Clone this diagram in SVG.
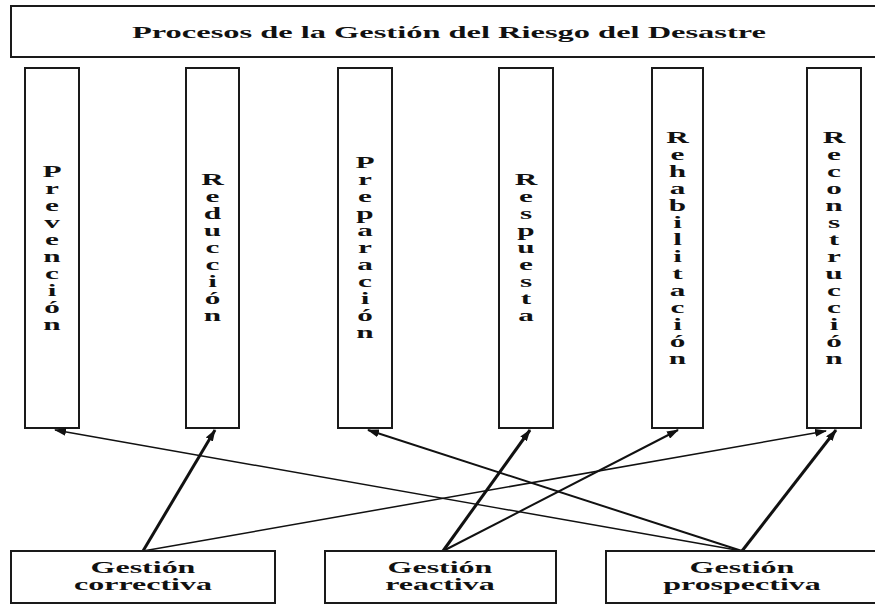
<svg xmlns="http://www.w3.org/2000/svg" width="875" height="604" viewBox="0 0 875 604">
<style>
  .box { fill: #ffffff; stroke: #1a1a1a; stroke-width: 2; }
  .t { font-family: "Liberation Serif", "Times New Roman", serif; font-weight: bold; font-size: 16px; fill: #111; }
  .c { stroke: #111; fill: none; }
  .thick { stroke-width: 3; }
  .med { stroke-width: 2; }
  .thin { stroke-width: 1.5; }
</style>
<defs>
  <marker id="ah" viewBox="0 0 12 8" refX="11" refY="4" markerWidth="12" markerHeight="8" markerUnits="userSpaceOnUse" orient="auto">
    <path d="M0,0 L12,4 L0,8 z" fill="#111"/>
  </marker>
</defs>
<rect width="875" height="604" fill="#ffffff"/>

<g id="title">
  <rect class="box" x="11" y="6" width="872" height="51"/>
  <g transform="scale(2 1)">
    <text class="t" x="224.5" y="38" text-anchor="middle" textLength="317" lengthAdjust="spacingAndGlyphs">Procesos de la Gestión del Riesgo del Desastre</text>
  </g>
</g>

<g id="prevencion">
  <rect class="box" x="25" y="68" width="54" height="360"/>
  <g transform="translate(52 0) scale(1.95 1)">
    <text class="t" text-anchor="middle"><tspan x="0" y="177">P</tspan><tspan x="0" dy="17">r</tspan><tspan x="0" dy="17">e</tspan><tspan x="0" dy="17">v</tspan><tspan x="0" dy="17">e</tspan><tspan x="0" dy="17">n</tspan><tspan x="0" dy="17">c</tspan><tspan x="0" dy="17">i</tspan><tspan x="0" dy="17">ó</tspan><tspan x="0" dy="17">n</tspan></text>
  </g>
</g>

<g id="reduccion">
  <rect class="box" x="186" y="68" width="53" height="360"/>
  <g transform="translate(212.5 0) scale(1.95 1)">
    <text class="t" text-anchor="middle"><tspan x="0" y="185.5">R</tspan><tspan x="0" dy="17">e</tspan><tspan x="0" dy="17">d</tspan><tspan x="0" dy="17">u</tspan><tspan x="0" dy="17">c</tspan><tspan x="0" dy="17">c</tspan><tspan x="0" dy="17">i</tspan><tspan x="0" dy="17">ó</tspan><tspan x="0" dy="17">n</tspan></text>
  </g>
</g>

<g id="preparacion">
  <rect class="box" x="338" y="68" width="54" height="360"/>
  <g transform="translate(365 0) scale(1.95 1)">
    <text class="t" text-anchor="middle"><tspan x="0" y="168.5">P</tspan><tspan x="0" dy="17">r</tspan><tspan x="0" dy="17">e</tspan><tspan x="0" dy="17">p</tspan><tspan x="0" dy="17">a</tspan><tspan x="0" dy="17">r</tspan><tspan x="0" dy="17">a</tspan><tspan x="0" dy="17">c</tspan><tspan x="0" dy="17">i</tspan><tspan x="0" dy="17">ó</tspan><tspan x="0" dy="17">n</tspan></text>
  </g>
</g>

<g id="respuesta">
  <rect class="box" x="499" y="68" width="54" height="360"/>
  <g transform="translate(526 0) scale(1.95 1)">
    <text class="t" text-anchor="middle"><tspan x="0" y="185.5">R</tspan><tspan x="0" dy="17">e</tspan><tspan x="0" dy="17">s</tspan><tspan x="0" dy="17">p</tspan><tspan x="0" dy="17">u</tspan><tspan x="0" dy="17">e</tspan><tspan x="0" dy="17">s</tspan><tspan x="0" dy="17">t</tspan><tspan x="0" dy="17">a</tspan></text>
  </g>
</g>

<g id="rehabilitacion">
  <rect class="box" x="652" y="68" width="51" height="360"/>
  <g transform="translate(677.5 0) scale(1.95 1)">
    <text class="t" text-anchor="middle"><tspan x="0" y="143">R</tspan><tspan x="0" dy="17">e</tspan><tspan x="0" dy="17">h</tspan><tspan x="0" dy="17">a</tspan><tspan x="0" dy="17">b</tspan><tspan x="0" dy="17">i</tspan><tspan x="0" dy="17">l</tspan><tspan x="0" dy="17">i</tspan><tspan x="0" dy="17">t</tspan><tspan x="0" dy="17">a</tspan><tspan x="0" dy="17">c</tspan><tspan x="0" dy="17">i</tspan><tspan x="0" dy="17">ó</tspan><tspan x="0" dy="17">n</tspan></text>
  </g>
</g>

<g id="reconstruccion">
  <rect class="box" x="807" y="68" width="54" height="360"/>
  <g transform="translate(834 0) scale(1.95 1)">
    <text class="t" text-anchor="middle"><tspan x="0" y="143">R</tspan><tspan x="0" dy="17">e</tspan><tspan x="0" dy="17">c</tspan><tspan x="0" dy="17">o</tspan><tspan x="0" dy="17">n</tspan><tspan x="0" dy="17">s</tspan><tspan x="0" dy="17">t</tspan><tspan x="0" dy="17">r</tspan><tspan x="0" dy="17">u</tspan><tspan x="0" dy="17">c</tspan><tspan x="0" dy="17">c</tspan><tspan x="0" dy="17">i</tspan><tspan x="0" dy="17">ó</tspan><tspan x="0" dy="17">n</tspan></text>
  </g>
</g>

<g id="connectors">
  <line class="c thin" x1="143" y1="551" x2="826" y2="431" marker-end="url(#ah)"/>
  <line class="c thin" x1="742" y1="551" x2="55" y2="430" marker-end="url(#ah)"/>
  <line class="c med" x1="742" y1="551" x2="368" y2="430" marker-end="url(#ah)"/>
  <line class="c med" x1="443" y1="551" x2="678" y2="430" marker-end="url(#ah)"/>
  <line class="c thick" x1="143" y1="551" x2="215" y2="430" marker-end="url(#ah)"/>
  <line class="c thick" x1="443" y1="551" x2="530" y2="430" marker-end="url(#ah)"/>
  <line class="c thick" x1="742" y1="551" x2="836" y2="430" marker-end="url(#ah)"/>
</g>

<g id="gestion-correctiva">
  <rect class="box" x="11" y="551" width="264" height="52"/>
  <g transform="scale(2 1)">
    <text class="t" x="71.5" y="573" text-anchor="middle">Gestión</text>
    <text class="t" x="71.5" y="590" text-anchor="middle">correctiva</text>
  </g>
</g>

<g id="gestion-reactiva">
  <rect class="box" x="325" y="551" width="231" height="52"/>
  <g transform="scale(2 1)">
    <text class="t" x="220" y="573" text-anchor="middle">Gestión</text>
    <text class="t" x="220" y="590" text-anchor="middle">reactiva</text>
  </g>
</g>

<g id="gestion-prospectiva">
  <rect class="box" x="606" y="551" width="274" height="52"/>
  <g transform="scale(2 1)">
    <text class="t" x="371" y="573" text-anchor="middle">Gestión</text>
    <text class="t" x="371" y="590" text-anchor="middle">prospectiva</text>
  </g>
</g>
</svg>
